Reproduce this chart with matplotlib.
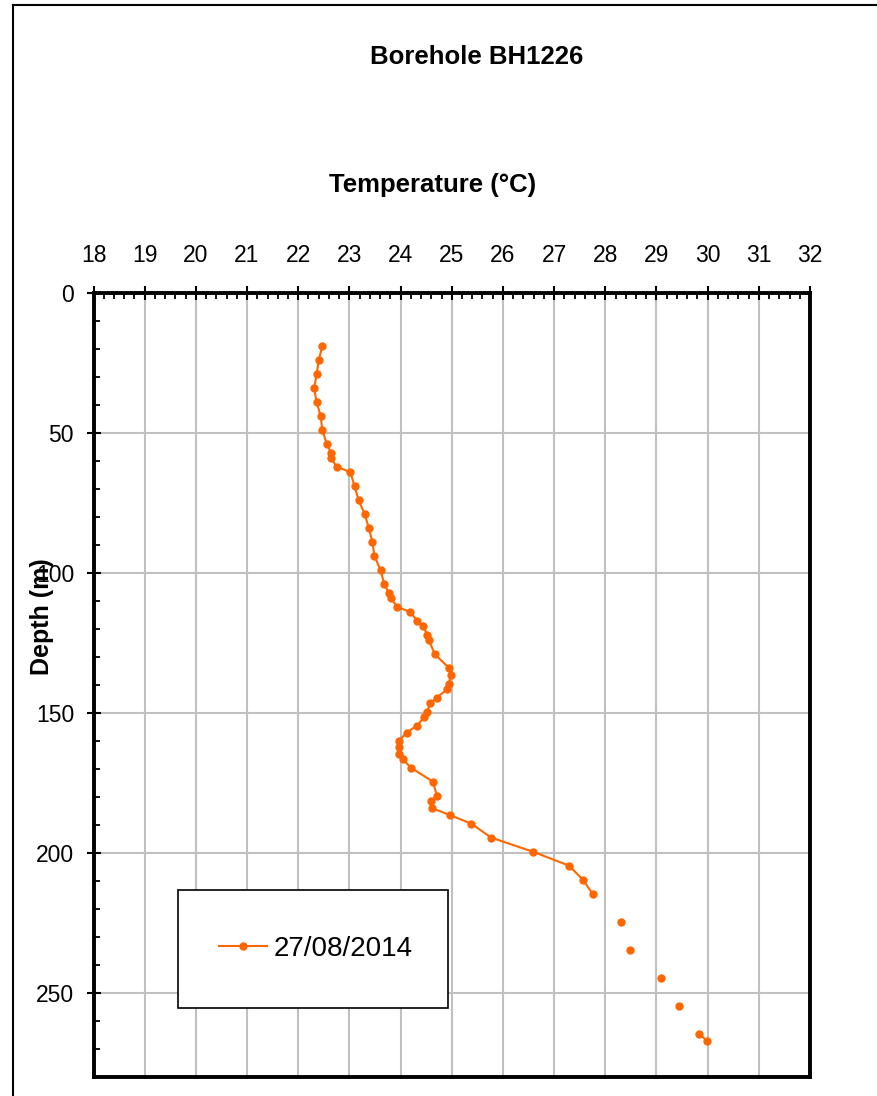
import matplotlib
matplotlib.use('Agg')
import matplotlib.pyplot as plt
from matplotlib.lines import Line2D
from matplotlib.patches import Rectangle
from matplotlib.ticker import MultipleLocator
import numpy as np

plt.rcParams['font.family'] = ['Liberation Sans', 'DejaVu Sans']

# Données du forage (NaN = lecture absente -> coupure de la courbe)
profondeur = [19, 24, 29, 34, 39, 44, 49, 54, 57, 59, 62, 64, 69, 74, 79, 84, 89, 94,
              99, 104, 107, 109, 112, 114, 117, 119, 122, 124, 129, 134, 136.5, 139.5,
              141.5, 144.5, 146.5, 149.5, 151.5, 154.5, 157, 160, 162, 164.5, 166.5,
              169.5, 174.5, 179.5, 181.5, 184, 186.5, 189.5, 194.5, 199.5, 204.5, 209.5,
              214.5, 219.5, 224.5, 229.5, 234.5, 239.5, 244.5, 249.5, 254.5, 259.5,
              264.5, 267]
temperature = [22.47, 22.40, 22.36, 22.31, 22.36, 22.44, 22.47, 22.56, 22.64, 22.64,
               22.75, 23.02, 23.10, 23.18, 23.30, 23.38, 23.45, 23.49, 23.61, 23.68,
               23.77, 23.81, 23.93, 24.19, 24.32, 24.44, 24.52, 24.55, 24.67, 24.95,
               24.98, 24.94, 24.91, 24.71, 24.58, 24.52, 24.46, 24.32, 24.12, 23.96,
               23.96, 23.96, 24.04, 24.20, 24.63, 24.71, 24.59, 24.62, 24.97, 25.38,
               25.77, 26.58, 27.29, 27.56, 27.75, np.nan, 28.30, np.nan, 28.49, np.nan,
               29.09, np.nan, 29.44, np.nan, 29.83, 29.98]
date_mesure = '27/08/2014'

orange = '#FF6600'

fig = plt.figure(figsize=(8.78, 10.96), dpi=100)
ax = fig.add_axes([0.1065, 0.01734, 0.8161, 0.7153])

ax.plot(temperature, profondeur, color=orange, lw=1.5, marker='o', ms=5,
        label=date_mesure, zorder=4, clip_on=False)

ax.set_xlim(18, 32)
ax.set_ylim(280, 0)
ax.xaxis.set_major_locator(MultipleLocator(1))
ax.xaxis.set_minor_locator(MultipleLocator(0.2))
ax.yaxis.set_major_locator(MultipleLocator(50))
ax.yaxis.set_minor_locator(MultipleLocator(10))
ax.xaxis.tick_top()
ax.tick_params(which='major', direction='inout', length=10, width=1.5,
               labelsize=16.5, color='black')
ax.tick_params(axis='x', which='major', pad=14)
ax.tick_params(axis='y', which='major', pad=9)
ax.tick_params(which='minor', direction='in', length=4.5, width=1.3)
ax.tick_params(axis='y', which='minor', left=True)
ax.tick_params(axis='x', which='minor', top=True, bottom=False)

ax.grid(which='major', color='#C0C0C0', lw=1.5, zorder=0)
ax.set_axisbelow(True)
for s in ax.spines.values():
    s.set_linewidth(2.8)

# Titres
fig.text(477 / 878, 1 - 57 / 1096, 'Borehole BH1226', ha='center', va='center',
         fontsize=18.5, fontweight='bold')
fig.text(433 / 878, 1 - 185 / 1096, 'Temperature (°C)', ha='center', va='center',
         fontsize=18.5, fontweight='bold')
fig.text(42 / 878, 1 - 617 / 1096, 'Depth (m)', ha='center', va='center',
         rotation=90, fontsize=18, fontweight='bold')

# Légende dans un cadre
cadre = Rectangle((178, 890), 270, 118, transform=None, facecolor='white',
                  edgecolor='black', lw=1.2, zorder=5)
cadre.set_transform(matplotlib.transforms.Affine2D().scale(1, -1).translate(0, 1096))
fig.add_artist(cadre)
leg = fig.legend(loc='center', bbox_to_anchor=(316 / 878, 1 - 949 / 1096),
                 frameon=False, fontsize=20, handlelength=1.73, handletextpad=0.25,
                 borderpad=0)
leg.set_zorder(6)

# Cadre extérieur
fig.add_artist(Line2D([13 / 878, 13 / 878], [0, 1 - 5 / 1096], color='black', lw=1.5))
fig.add_artist(Line2D([13 / 878, 1], [1 - 5 / 1096, 1 - 5 / 1096], color='black', lw=1.5))

plt.savefig('out.png', dpi=100)
plt.close()
